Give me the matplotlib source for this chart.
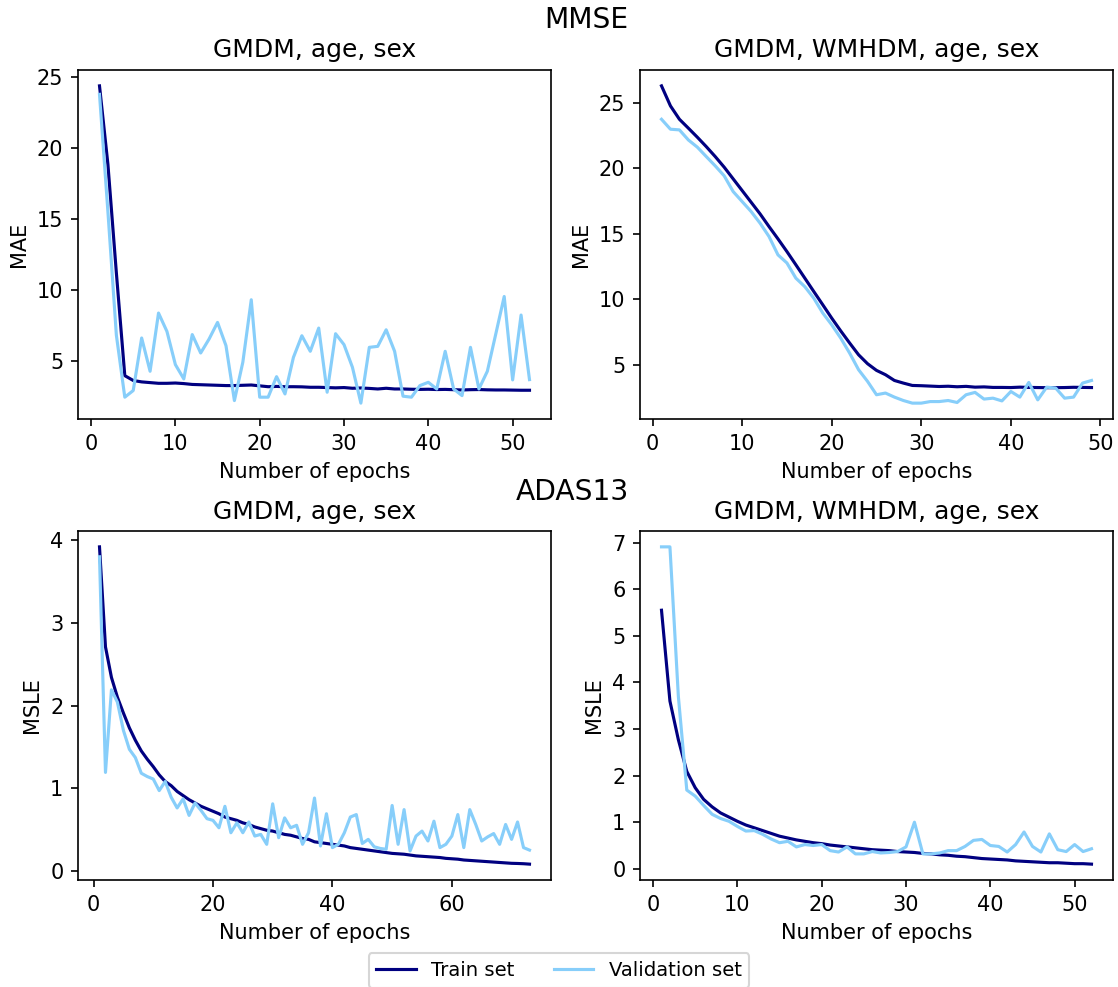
import matplotlib.pyplot as plt

# MMSE, model with GMDM, age, sex (MAE per epoch)
mmse_a_train = [24.4, 18.85, 11.2, 3.94, 3.6, 3.5, 3.45, 3.4, 3.4, 3.42,
                3.38, 3.32, 3.3, 3.28, 3.26, 3.24, 3.24, 3.26, 3.28, 3.22,
                3.16, 3.18, 3.16, 3.16, 3.15, 3.12, 3.12, 3.1, 3.08, 3.1,
                3.05, 3.07, 3.04, 3.0, 3.05, 3.0, 3.0, 2.98, 2.97, 2.98,
                2.96, 2.97, 2.95, 2.93, 2.95, 2.96, 2.94, 2.93, 2.93, 2.92,
                2.91, 2.91]
mmse_a_val = [23.8, 15.5, 6.8, 2.42, 2.89, 6.6, 4.25, 8.36, 7.06, 4.72,
              3.71, 6.84, 5.54, 6.53, 7.7, 6.06, 2.18, 4.89, 9.3, 2.42,
              2.42, 3.87, 2.65, 5.23, 6.76, 5.66, 7.3, 2.77, 6.9, 6.13,
              4.53, 2.0, 5.94, 6.01, 7.18, 5.66, 2.49, 2.42, 3.24, 3.47,
              3.0, 5.66, 3.0, 2.53, 5.94, 3.0, 4.25, 6.88, 9.53, 3.64,
              8.22, 3.66]

# MMSE, model with GMDM, WMHDM, age, sex
mmse_b_train = [26.3, 24.77, 23.75, 23.07, 22.38, 21.66, 20.9, 20.09, 19.2, 18.31,
                17.42, 16.53, 15.56, 14.62, 13.65, 12.64, 11.62, 10.6, 9.59, 8.57,
                7.6, 6.67, 5.77, 5.09, 4.58, 4.25, 3.81, 3.61, 3.43, 3.41,
                3.38, 3.35, 3.37, 3.33, 3.36, 3.3, 3.32, 3.28, 3.28, 3.27,
                3.3, 3.28, 3.27, 3.26, 3.26, 3.27, 3.29, 3.28, 3.27]
mmse_b_val = [23.75, 22.99, 22.94, 22.17, 21.62, 20.9, 20.19, 19.43, 18.23, 17.47,
              16.71, 15.82, 14.8, 13.4, 12.78, 11.62, 10.97, 10.09, 8.96, 8.06,
              7.05, 5.9, 4.63, 3.74, 2.72, 2.85, 2.54, 2.28, 2.08, 2.08,
              2.2, 2.2, 2.28, 2.13, 2.72, 2.9, 2.39, 2.46, 2.25, 2.97,
              2.54, 3.66, 2.33, 3.3, 3.23, 2.46, 2.54, 3.61, 3.81]

# ADAS13, model with GMDM, age, sex (MSLE per epoch)
adas_a_train = [3.92, 2.71, 2.34, 2.1, 1.91, 1.73, 1.58, 1.45, 1.35, 1.26,
                1.16, 1.08, 1.03, 0.96, 0.91, 0.86, 0.82, 0.78, 0.75, 0.72,
                0.69, 0.65, 0.63, 0.61, 0.58, 0.56, 0.53, 0.51, 0.49, 0.48,
                0.46, 0.44, 0.43, 0.41, 0.39, 0.38, 0.35, 0.34, 0.33, 0.32,
                0.31, 0.30, 0.28, 0.27, 0.26, 0.25, 0.24, 0.23, 0.22, 0.21,
                0.205, 0.20, 0.19, 0.18, 0.175, 0.17, 0.165, 0.16, 0.15, 0.145,
                0.14, 0.13, 0.125, 0.12, 0.115, 0.11, 0.105, 0.10, 0.095, 0.09,
                0.088, 0.085, 0.08]
adas_a_val = [3.8, 1.19, 2.19, 2.04, 1.7, 1.47, 1.37, 1.18, 1.14, 1.11,
              0.97, 1.08, 0.89, 0.76, 0.87, 0.67, 0.82, 0.73, 0.63, 0.61,
              0.52, 0.78, 0.46, 0.58, 0.46, 0.59, 0.42, 0.44, 0.32, 0.81,
              0.40, 0.64, 0.52, 0.55, 0.32, 0.46, 0.88, 0.30, 0.69, 0.28,
              0.32, 0.46, 0.65, 0.68, 0.33, 0.38, 0.29, 0.27, 0.26, 0.79,
              0.32, 0.74, 0.24, 0.42, 0.48, 0.36, 0.6, 0.28, 0.32, 0.42,
              0.68, 0.28, 0.74, 0.56, 0.36, 0.41, 0.45, 0.32, 0.56, 0.38,
              0.59, 0.28, 0.25]

# ADAS13, model with GMDM, WMHDM, age, sex
adas_b_train = [5.55, 3.6, 2.77, 2.09, 1.74, 1.49, 1.33, 1.2, 1.11, 1.02,
                0.94, 0.88, 0.82, 0.76, 0.7, 0.66, 0.62, 0.59, 0.56, 0.54,
                0.51, 0.49, 0.47, 0.45, 0.43, 0.41, 0.40, 0.39, 0.37, 0.36,
                0.35, 0.33, 0.32, 0.30, 0.29, 0.27, 0.26, 0.24, 0.22, 0.21,
                0.2, 0.19, 0.17, 0.16, 0.15, 0.14, 0.13, 0.13, 0.12, 0.11,
                0.11, 0.10]
adas_b_val = [6.91, 6.91, 3.7, 1.69, 1.56, 1.36, 1.17, 1.08, 1.02, 0.91,
              0.81, 0.82, 0.74, 0.64, 0.56, 0.59, 0.47, 0.52, 0.5, 0.52,
              0.39, 0.36, 0.47, 0.32, 0.32, 0.37, 0.34, 0.35, 0.37, 0.47,
              1.0, 0.32, 0.32, 0.34, 0.39, 0.39, 0.48, 0.61, 0.63, 0.5,
              0.48, 0.36, 0.52, 0.79, 0.48, 0.36, 0.75, 0.41, 0.37, 0.52,
              0.37, 0.43]

titles = ['GMDM, age, sex', 'GMDM, WMHDM, age, sex']

fig = plt.figure(figsize=(1118 / 150, 987 / 150), dpi=150)

w, h = 473 / 1118, 349 / 987
positions = [
    (78 / 1118, 1 - 419 / 987),
    (640 / 1118, 1 - 419 / 987),
    (78 / 1118, 1 - 880 / 987),
    (640 / 1118, 1 - 880 / 987),
]
panels = [
    (mmse_a_train, mmse_a_val, titles[0], 'MAE'),
    (mmse_b_train, mmse_b_val, titles[1], 'MAE'),
    (adas_a_train, adas_a_val, titles[0], 'MSLE'),
    (adas_b_train, adas_b_val, titles[1], 'MSLE'),
]

for (left, bottom), (train, val, title, ylabel) in zip(positions, panels):
    ax = fig.add_axes([left, bottom, w, h])
    ax.plot(range(1, len(train) + 1), train, color='navy', label='Train set')
    ax.plot(range(1, len(val) + 1), val, color='lightskyblue', label='Validation set')
    ax.set_title(title)
    ax.set_xlabel('Number of epochs')
    ax.set_ylabel(ylabel)

fig.text(586 / 1118, 1 - 20 / 987, 'MMSE', ha='center', va='center', fontsize=13.5)
fig.text(572 / 1118, 1 - 492 / 987, 'ADAS13', ha='center', va='center', fontsize=13.5)

handles, labels = ax.get_legend_handles_labels()
fig.legend(handles, labels, loc='upper center', ncol=2, fontsize=9.4,
           bbox_to_anchor=(0.5, 1 - 953 / 987), borderaxespad=0)

fig.savefig('out.png', dpi=150)
